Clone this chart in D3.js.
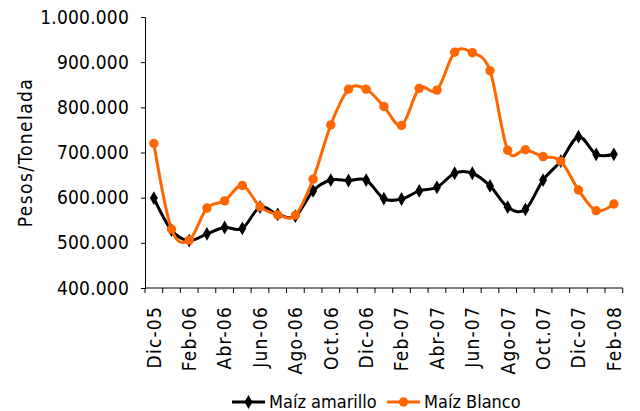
<!DOCTYPE html>
<html>
<head>
<meta charset="utf-8">
<script src="https://cdn.jsdelivr.net/npm/d3@7"></script>
<style>
  body { margin: 0; background: #fff; }
  text { font-family: "DejaVu Sans Condensed", "DejaVu Sans", Verdana, sans-serif; fill: #000; }
</style>
</head>
<body>
<div id="chart"></div>
<script>
// months on the category axis
var months = ["Dic-05","Ene-06","Feb-06","Mar-06","Abr-06","May-06","Jun-06","Jul-06","Ago-06","Sep-06",
  "Oct.06","Nov-06","Dic-06","Ene-07","Feb-07","Mar-07","Abr-07","May-07","Jun-07","Jul-07",
  "Ago-07","Sep-07","Oct.07","Nov-07","Dic-07","Ene-08","Feb-08"];

// pesos por tonelada
var amarillo = [599000,528000,505000,520000,534000,532000,579000,563000,559000,615000,
  639000,638000,639000,598000,597000,615000,623000,654000,654000,626000,
  579000,574000,639000,681000,735000,696000,696000];
var blanco = [720000,530000,506000,577000,593000,627000,580000,562000,561000,641000,
  761000,840000,840000,802000,760000,842000,838000,922000,921000,881000,
  705000,706000,691000,681000,617000,571000,586000];

var yTicks = [400000,500000,600000,700000,800000,900000,1000000];

var width = 640, height = 411;
var margin = {top: 17, right: 17.3, bottom: 123, left: 145};

var svg = d3.select("#chart").append("svg")
    .attr("width", width)
    .attr("height", height);

var x = d3.scaleBand()
    .domain(months)
    .range([margin.left, width - margin.right])
    .padding(0);

var y = d3.scaleLinear()
    .domain([400000, 1000000])
    .range([height - margin.bottom, margin.top]);

var fmt = function(v){ return d3.format(",")(v).replace(/,/g, "."); };

// y axis
var yAxis = svg.append("g")
    .attr("transform", "translate(" + margin.left + ",0)")
    .call(d3.axisLeft(y).tickValues(yTicks).tickSize(4).tickPadding(12).tickFormat(fmt));
yAxis.select(".domain").attr("stroke", "#000");
yAxis.selectAll("text")
    .style("font-size", "19px")
    .style("letter-spacing", "0.2px");

// x axis: line + ticks at band boundaries
var xBase = y(400000);
svg.append("line")
    .attr("x1", x.range()[0]).attr("x2", x.range()[1])
    .attr("y1", xBase).attr("y2", xBase)
    .attr("stroke", "#000");

var bounds = months.map(function(m){ return x(m); }).concat([x.range()[1]]);
svg.append("g").selectAll("line")
    .data(bounds)
    .enter().append("line")
    .attr("x1", function(d){ return d; })
    .attr("x2", function(d){ return d; })
    .attr("y1", xBase)
    .attr("y2", xBase + 5)
    .attr("stroke", "#000");

svg.append("g").selectAll("text")
    .data(months.filter(function(m, i){ return i % 2 === 0; }))
    .enter().append("text")
    .attr("transform", function(d){
        return "translate(" + (x(d) + x.bandwidth() / 2) + "," + (xBase + 18) + ") rotate(-90)";
    })
    .attr("dy", "0.36em")
    .attr("text-anchor", "end")
    .style("font-size", "19px")
    .style("letter-spacing", "1.2px")
    .text(function(d){ return d; });

// y axis title
svg.append("text")
    .attr("transform", "translate(32," + ((margin.top + xBase) / 2) + ") rotate(-90)")
    .attr("text-anchor", "middle")
    .style("font-size", "19px")
    .style("letter-spacing", "1.4px")
    .text("Pesos/Tonelada");

// series (excel-style smoothing)
var line = d3.line()
    .x(function(d, i){ return x(months[i]) + x.bandwidth() / 2; })
    .y(function(d){ return y(d); })
    .curve(d3.curveCatmullRom.alpha(0));

var diamond = d3.symbol().type(d3.symbolDiamond).size(55);

svg.append("path")
    .datum(amarillo)
    .attr("fill", "none")
    .attr("stroke", "#000")
    .attr("stroke-width", 3)
    .attr("d", line);

svg.append("g").selectAll("path")
    .data(amarillo)
    .enter().append("path")
    .attr("d", diamond)
    .attr("transform", function(d, i){
        return "translate(" + (x(months[i]) + x.bandwidth() / 2) + "," + y(d) + ")";
    })
    .attr("fill", "#000");

svg.append("path")
    .datum(blanco)
    .attr("fill", "none")
    .attr("stroke", "#FF6600")
    .attr("stroke-width", 3)
    .attr("d", line);

svg.append("g").selectAll("circle")
    .data(blanco)
    .enter().append("circle")
    .attr("cx", function(d, i){ return x(months[i]) + x.bandwidth() / 2; })
    .attr("cy", function(d){ return y(d); })
    .attr("r", 4.7)
    .attr("fill", "#FF6600");

// legend
var legend = [
    {name: "Maíz amarillo", color: "#000", x: 232, shape: "diamond"},
    {name: "Maíz Blanco", color: "#FF6600", x: 387, shape: "circle"}
];
var ly = 402;
var lg = svg.append("g").selectAll("g")
    .data(legend)
    .enter().append("g")
    .attr("transform", function(d){ return "translate(" + d.x + "," + ly + ")"; });

lg.append("line")
    .attr("x1", 0).attr("x2", 33)
    .attr("stroke", function(d){ return d.color; })
    .attr("stroke-width", 3);

lg.each(function(d){
    var g = d3.select(this);
    if (d.shape === "diamond") {
        g.append("path").attr("d", diamond).attr("transform", "translate(16.5,0)").attr("fill", d.color);
    } else {
        g.append("circle").attr("cx", 16.5).attr("r", 4.7).attr("fill", d.color);
    }
});

lg.append("text")
    .attr("x", 37)
    .attr("dy", "0.36em")
    .style("font-size", "18px")
    .text(function(d){ return d.name; });
</script>
</body>
</html>
